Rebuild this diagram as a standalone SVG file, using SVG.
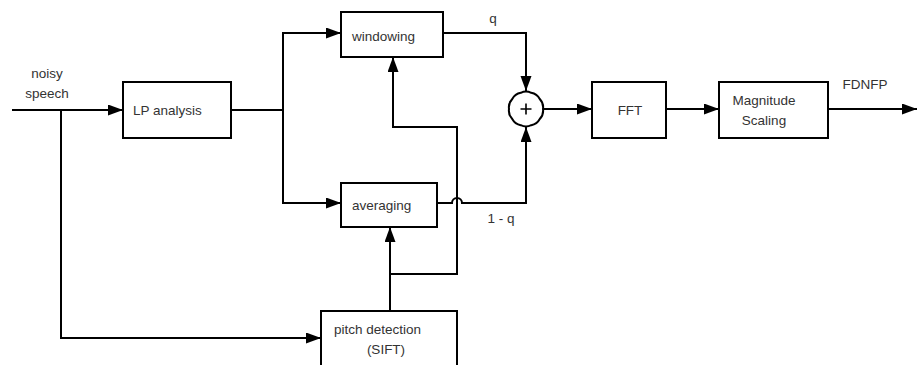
<svg xmlns="http://www.w3.org/2000/svg" width="917" height="365" viewBox="0 0 917 365">
  <style>
    .box { fill: #fff; stroke: #000; stroke-width: 2; }
    .wire { fill: none; stroke: #000; stroke-width: 2; }
    .lbl { font-family: "Liberation Sans", Arial, sans-serif; font-size: 13.5px; fill: #333; }
  </style>
  <defs>
    <marker id="arrow" markerUnits="userSpaceOnUse" markerWidth="16" markerHeight="12" refX="15" refY="5.5" orient="auto">
      <path d="M0,0 L15,5.5 L0,11 z" fill="#000"/>
    </marker>
  </defs>
  <rect width="917" height="365" fill="#fff"/>

  <!-- connectors -->
  <g id="connectors">
    <path class="wire" d="M12,110 L123,110" marker-end="url(#arrow)"/>
    <path class="wire" d="M61,110 L61,338 L321,338" marker-end="url(#arrow)"/>
    <path class="wire" d="M231,110 L283,110"/>
    <path class="wire" d="M283,110 L283,33 L341,33" marker-end="url(#arrow)"/>
    <path class="wire" d="M283,110 L283,203 L341,203" marker-end="url(#arrow)"/>
    <path class="wire" d="M443,33 L526,33 L526,91" marker-end="url(#arrow)"/>
    <path class="wire" d="M437,203 L452,203 A5,5 0 0 1 462,203 L526,203 L526,127" marker-end="url(#arrow)"/>
    <path class="wire" d="M390,311 L390,227" marker-end="url(#arrow)"/>
    <path class="wire" d="M390,274 L457,274 L457,127 L393,127 L393,57" marker-end="url(#arrow)"/>
    <path class="wire" d="M543,109 L592,109" marker-end="url(#arrow)"/>
    <path class="wire" d="M666,109 L719,109" marker-end="url(#arrow)"/>
    <path class="wire" d="M828,109 L917,109" marker-end="url(#arrow)"/>
  </g>

  <text class="lbl" x="47" y="78" text-anchor="middle">noisy</text>
  <text class="lbl" x="47" y="98" text-anchor="middle">speech</text>
  <text class="lbl" x="493" y="23" text-anchor="middle">q</text>
  <text class="lbl" x="501" y="223" text-anchor="middle">1 - q</text>
  <text class="lbl" x="865" y="89" text-anchor="middle">FDNFP</text>

  <g id="lp-analysis">
    <rect class="box" x="123" y="82" width="108" height="56"/>
    <text class="lbl" x="133" y="115">LP analysis</text>
  </g>

  <g id="windowing">
    <rect class="box" x="341" y="12" width="102" height="45"/>
    <text class="lbl" x="352" y="41">windowing</text>
  </g>

  <g id="averaging">
    <rect class="box" x="341" y="183" width="96" height="44"/>
    <text class="lbl" x="352" y="210">averaging</text>
  </g>

  <!-- summing junction: a softly scalloped circle -->
  <g id="sum">
    <path class="box" d="M543,109 A12,12 0 0 1 539.75,119 A12,12 0 0 1 531.25,125.17 A12,12 0 0 1 520.75,125.17 A12,12 0 0 1 512.25,119 A12,12 0 0 1 509,109 A12,12 0 0 1 512.25,99 A12,12 0 0 1 520.75,92.83 A12,12 0 0 1 531.25,92.83 A12,12 0 0 1 539.75,99 A12,12 0 0 1 543,109 z"/>
    <path d="M520.5,109 L531.5,109 M526,103.5 L526,114.5" stroke="#000" stroke-width="1.6"/>
  </g>

  <g id="fft">
    <rect class="box" x="592" y="82" width="74" height="56"/>
    <text class="lbl" x="630" y="115" text-anchor="middle">FFT</text>
  </g>

  <g id="magnitude-scaling">
    <rect class="box" x="719" y="82" width="109" height="56"/>
    <text class="lbl" x="764" y="105" text-anchor="middle">Magnitude</text>
    <text class="lbl" x="764" y="125" text-anchor="middle">Scaling</text>
  </g>

  <g id="pitch-detection">
    <rect class="box" x="321" y="311" width="136" height="60"/>
    <text class="lbl" x="334" y="334">pitch detection</text>
    <text class="lbl" x="386" y="354" text-anchor="middle">(SIFT)</text>
  </g>
</svg>
